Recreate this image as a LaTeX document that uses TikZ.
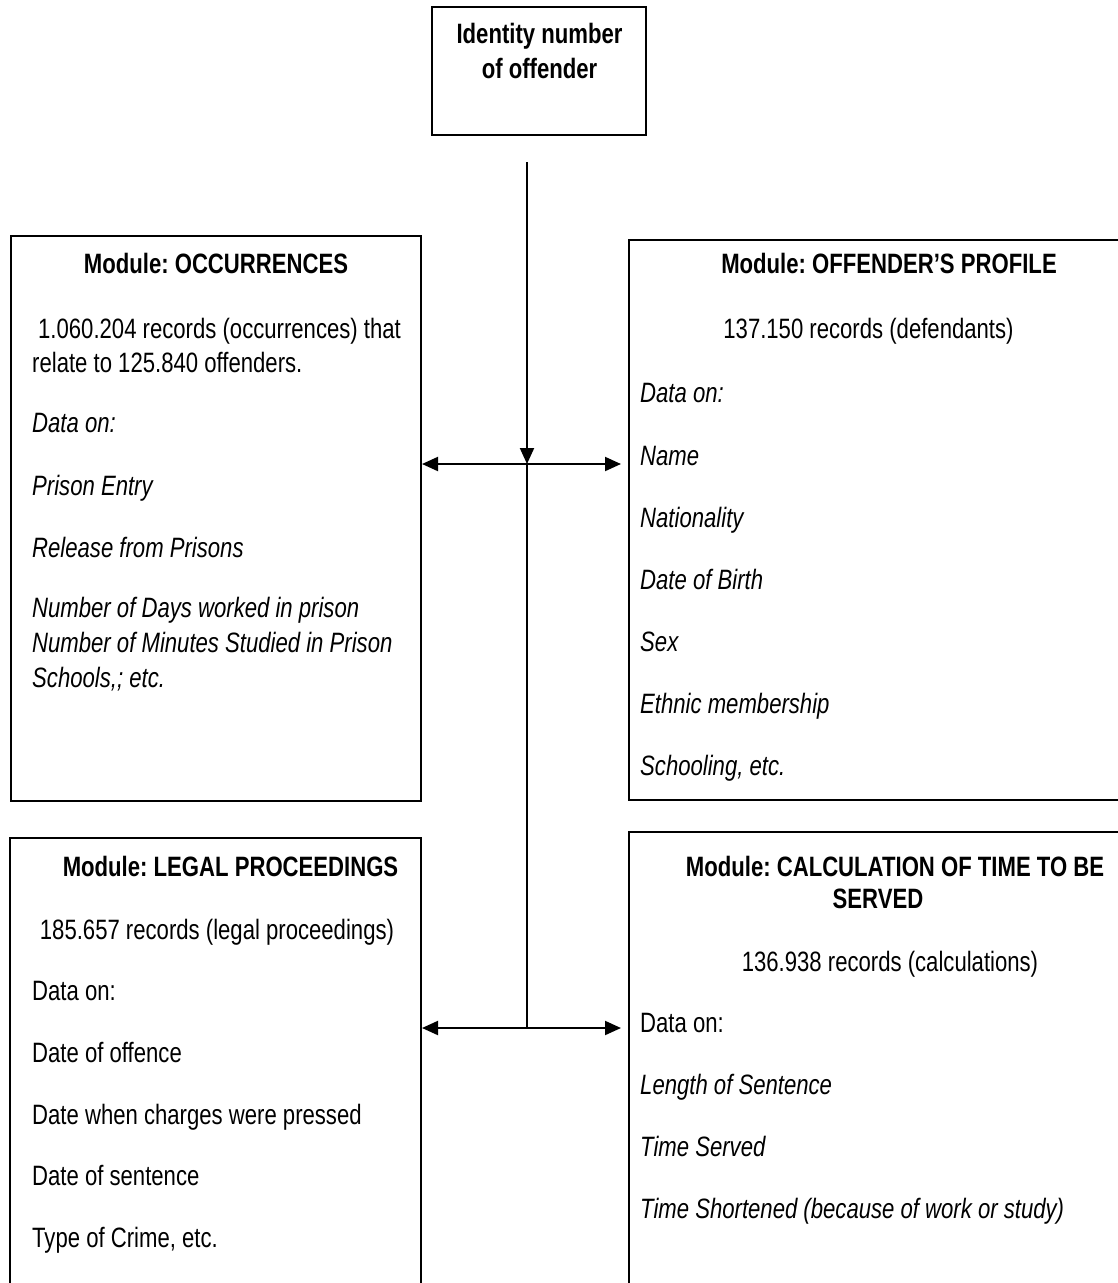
\documentclass[tikz,border=0pt]{standalone}
\usepackage{fontspec}
\setmainfont{Liberation Sans}[FakeStretch=0.79]
\usepackage{tikz}
\usetikzlibrary{arrows.meta,positioning,calc}
\frenchspacing

\begin{document}
\begin{tikzpicture}[x=1pt, y=-1pt,
    box/.style={draw, line width=2pt, inner sep=0pt},
    ttl/.style={anchor=base, inner sep=0pt, font=\fontsize{28}{34}\selectfont\bfseries},
    ctr/.style={anchor=base, inner sep=0pt, font=\fontsize{28}{34}\selectfont},
    txt/.style={anchor=base west, inner sep=0pt, font=\fontsize{28}{34}\selectfont},
    itx/.style={txt, font=\fontsize{28}{34}\selectfont\itshape},
    arr/.style={line width=2pt, -{Triangle[length=16pt,width=14pt]}},
    darr/.style={line width=2pt, {Triangle[length=16pt,width=14pt]}-{Triangle[length=16pt,width=14pt]}}]
        \useasboundingbox (0,0) rectangle (1117,1283);
        % boxes
        \node[box, minimum width=214pt, minimum height=128pt] (id) at (539,71) {};
        \node[box, minimum width=410pt, minimum height=565pt] (occ) at (216,518.5) {};
        \node[box, minimum width=516pt, minimum height=560pt] (prof) at (887,520) {};
        \node[box, minimum width=411pt, minimum height=482pt] (legal) at (215.5,1079) {};
        \node[box, minimum width=516pt, minimum height=488pt] (calc) at (887,1076) {};
        % identity
        \node[ttl] (id-1) at (539.5,43) {Identity number};
        \node[ttl] (id-2) at (539.5,78) {of offender};
        % occurrences
        \node[ttl] (occ-t) at (216,273) {Module: OCCURRENCES};
        \node[txt] (occ-1) at (38,338) {1.060.204 records (occurrences) that};
        \node[txt] (occ-2) at (32,372) {relate to 125.840 offenders.};
        \node[itx] (occ-3) at (32,432) {Data on:};
        \node[itx] (occ-4) at (32,495) {Prison Entry};
        \node[itx] (occ-5) at (32,557) {Release from Prisons};
        \node[itx] (occ-6) at (32,617) {Number of Days worked in prison};
        \node[itx] (occ-7) at (32,652) {Number of Minutes Studied in Prison};
        \node[itx] (occ-8) at (32,687) {Schools,; etc.};
        % offender's profile
        \node[ttl] (prof-t) at (889,273) {Module: OFFENDER’S PROFILE};
        \node[ctr] (prof-1) at (868.5,338) {137.150 records (defendants)};
        \node[itx] (prof-2) at (640,402) {Data on:};
        \node[itx] (prof-3) at (640,465) {Name};
        \node[itx] (prof-4) at (640,527) {Nationality};
        \node[itx] (prof-5) at (640,589) {Date of Birth};
        \node[itx] (prof-6) at (640,651) {Sex};
        \node[itx] (prof-7) at (640,713) {Ethnic membership};
        \node[itx] (prof-8) at (640,775) {Schooling, etc.};
        % legal proceedings
        \node[ttl] (legal-t) at (230.5,876) {Module: LEGAL PROCEEDINGS};
        \node[ctr] (legal-1) at (217,939) {185.657 records (legal proceedings)};
        \node[txt] (legal-2) at (32,1000) {Data on:};
        \node[txt] (legal-3) at (32,1062) {Date of offence};
        \node[txt] (legal-4) at (32,1124) {Date when charges were pressed};
        \node[txt] (legal-5) at (32,1185) {Date of sentence};
        \node[txt] (legal-6) at (32,1247) {Type of Crime, etc.};
        % calculation
        \node[ttl] (calc-t1) at (895,876) {Module: CALCULATION OF TIME TO BE};
        \node[ttl] (calc-t2) at (878,908) {SERVED};
        \node[ctr] (calc-1) at (890,971) {136.938 records (calculations)};
        \node[txt] (calc-2) at (640,1032) {Data on:};
        \node[itx] (calc-3) at (640,1094) {Length of Sentence};
        \node[itx] (calc-4) at (640,1156) {Time Served};
        \node[itx] (calc-5) at (640,1218) {Time Shortened (because of work or study)};
        % connectors
        \coordinate (src) at (527,162);
        \coordinate (j1) at (527,464);
        \coordinate (j2) at (527,1028);
        \draw[arr] (src) -- (j1);
        \draw[line width=2pt] (j1) -- (j2);
        \draw[darr, shorten >=7pt] (occ.east |- j1) -- (prof.west |- j1);
        \draw[darr, shorten >=7pt] (legal.east |- j2) -- (calc.west |- j2);
    \end{tikzpicture}
\end{document}
